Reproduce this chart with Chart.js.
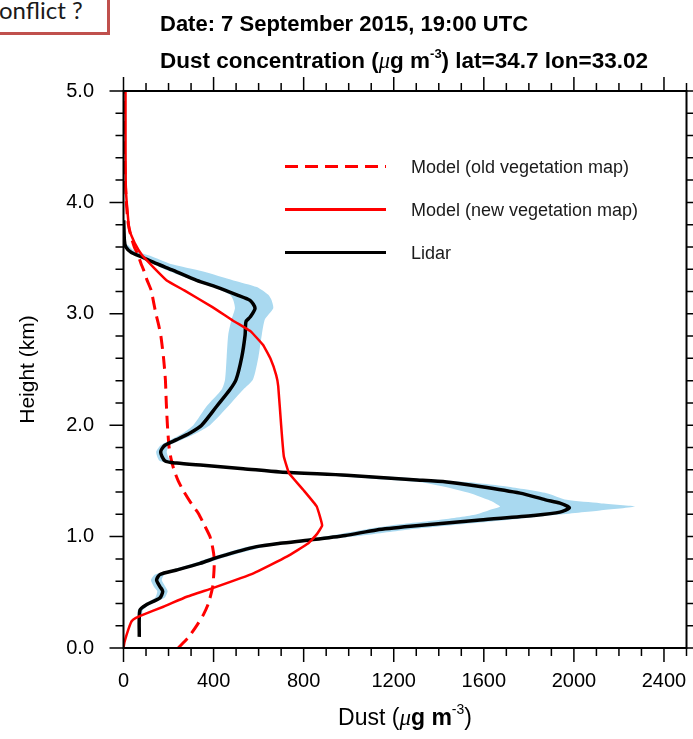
<!DOCTYPE html>
<html>
<head>
<meta charset="utf-8">
<script src="https://cdn.jsdelivr.net/npm/chart.js@4.4.1/dist/chart.umd.min.js"></script>
<style>
html,body{margin:0;padding:0;background:#fff;}
#wrap{position:relative;width:693px;height:739px;overflow:hidden;background:#fff;}
#c{position:absolute;left:0;top:0;}
#note{position:absolute;left:-30px;top:-30px;width:140px;height:65px;box-sizing:border-box;border:3px solid #c0504d;background:#fff;}
#noteText{position:absolute;left:-1px;top:-2px;font-family:Lato,"Open Sans",sans-serif;font-size:24px;line-height:24px;color:#1a1a1a;white-space:nowrap;}
</style>
</head>
<body>
<div id="wrap">
  <canvas id="c" width="693" height="739"></canvas>
  <div id="note"></div>
  <div id="noteText">onflict ?</div>
</div>
<script>
// ---------- DATA ----------
// Model with old vegetation map (dashed red): height (km) and dust (µg m-3)
const heightsOld = [0.00,0.10,0.21,0.30,0.40,0.55,0.70,0.80,0.90,1.00,1.10,1.21,1.30,1.40,1.50,1.60,1.70,1.81,2.00,2.20,2.41,2.60,2.80,2.90,3.00,3.10,3.21,3.30,3.40,3.45,3.54,3.60,3.70,3.81,3.96,4.20,4.50,4.80,5.00];
const dustOld    = [243,290,328,355,377,396,402,403,396,384,360,332,300,269,243,224,211,202,195,190,186,178,166,156,144,134,123,105,88,78,62,48,33,21,14,8,4,3,2];

// Model with new vegetation map (solid red)
const heightsNew = [0.00,0.05,0.10,0.17,0.24,0.27,0.30,0.37,0.46,0.54,0.67,0.82,0.94,1.02,1.10,1.27,1.42,1.57,1.72,1.87,2.00,2.35,2.45,2.60,2.72,2.84,2.88,2.94,3.06,3.21,3.30,3.42,3.53,3.63,3.75,3.96,4.14,4.50,5.00];
const dustNew    = [0,4,11,22,36,55,88,177,281,399,577,725,821,858,882,858,798,735,712,705,700,687,678,652,620,566,535,485,395,270,192,132,81,51,26,16,10,9,9];

// Lidar (black)
const heightsLidar = [0.10,0.34,0.39,0.45,0.51,0.55,0.61,0.66,0.70,0.76,0.82,0.91,0.94,0.97,1.01,1.06,1.095,1.15,1.19,1.22,1.26,1.30,1.33,1.39,1.45,1.49,1.51,1.55,1.58,1.61,1.64,1.66,1.68,1.76,1.82,1.87,1.93,2.00,2.17,2.32,2.41,2.61,2.81,2.93,2.97,3.05,3.12,3.17,3.24,3.30,3.39,3.45,3.51,3.55,3.60,3.66,3.84];
const dustLidar    = [70,73,103,162,174,162,147,162,236,340,428,591,695,828,985,1124,1287,1583,1820,1938,1980,1938,1874,1761,1583,1435,1287,991,695,532,354,236,184,165,184,236,295,347,414,473,500,525,540,544,562,584,562,503,414,325,221,147,81,35,10,4,1];

// Lidar uncertainty band (light blue): left and right edges at each height
const bandHeights = [0.30,0.34,0.39,0.45,0.51,0.55,0.61,0.66,0.70,0.76,0.82,0.91,0.94,0.97,1.01,1.06,1.104,1.149,1.196,1.235,1.27,1.30,1.33,1.39,1.45,1.49,1.52,1.55,1.58,1.61,1.64,1.66,1.68,1.76,1.82,1.87,1.93,2.00,2.17,2.32,2.41,2.61,2.81,2.95,3.05,3.12,3.17,3.24,3.30,3.38,3.45,3.52,3.57,3.62];
const bandLeft    = [62,64,92,140,150,135,122,140,212,312,398,550,650,780,920,1060,1200,1400,1560,1620,1672,1650,1620,1540,1420,1310,1100,920,640,490,325,212,160,145,165,210,265,310,369,436,451,458,465,480,495,488,473,399,310,206,131,64,20,5];
const bandRight   = [82,86,118,182,196,186,170,182,258,366,458,630,745,880,1060,1250,1465,1702,1924,2116,2271,2116,1968,1879,1702,1524,1317,1065,750,575,385,260,208,192,205,260,325,384,465,532,575,599,614,628,665,658,643,592,488,354,206,118,45,18];

// Axes / ticks
const xMin = 0, xMax = 2500, xMinorStep = 100;
const yMin = 0, yMax = 5, yMinorStep = 0.2;
const xTickValues = [0, 400, 800, 1200, 1600, 2000, 2400];
const xTickLabels = ['0', '400', '800', '1200', '1600', '2000', '2400'];
const yTickValues = [0, 1, 2, 3, 4, 5];
const yTickLabels = ['0.0', '1.0', '2.0', '3.0', '4.0', '5.0'];
const seriesLabels = ['Model (old vegetation map)', 'Model (new vegetation map)', 'Lidar'];

// ---------- BUILD ----------
const toPts = (hs, ds) => hs.map((h, i) => ({x: ds[i], y: h}));
const bandPts = bandHeights.map((h, i) => ({x: bandLeft[i], y: h}))
  .concat(bandHeights.map((h, i) => ({x: bandRight[i], y: h})).reverse());

const SANS = '"Liberation Sans", Arial, sans-serif';

function richText(ctx, parts, x, y, align) {
  let w = 0;
  parts.forEach(p => { ctx.font = p.f; p.w = ctx.measureText(p.t).width; w += p.w; });
  let cx = align === 'center' ? x - w / 2 : x;
  ctx.textAlign = 'left';
  ctx.textBaseline = 'alphabetic';
  parts.forEach(p => { ctx.font = p.f; ctx.fillText(p.t, cx, y + (p.dy || 0)); cx += p.w; });
}

const isMajor = (vals, v) => vals.some(t => Math.abs(t - v) < 1e-6);

const decor = {
  id: 'decor',
  afterDraw(chart) {
    const {ctx, chartArea: a, scales: {x, y}} = chart;
    ctx.save();
    ctx.strokeStyle = '#000';
    ctx.fillStyle = '#000';
    const majorLen = 14, minorLen = 8;
    ctx.lineWidth = 1.5;
    ctx.beginPath();
    const nx = Math.round((xMax - xMin) / xMinorStep);
    for (let i = 0; i <= nx; i++) {
      const v = xMin + i * xMinorStep;
      const px = x.getPixelForValue(v);
      const len = isMajor(xTickValues, v) ? majorLen : minorLen;
      ctx.moveTo(px, a.bottom); ctx.lineTo(px, a.bottom + len);
      ctx.moveTo(px, a.top); ctx.lineTo(px, a.top - len);
    }
    const ny = Math.round((yMax - yMin) / yMinorStep);
    for (let i = 0; i <= ny; i++) {
      const v = yMin + i * yMinorStep;
      const py = y.getPixelForValue(v);
      const len = isMajor(yTickValues, v) ? majorLen : minorLen;
      ctx.moveTo(a.left, py); ctx.lineTo(a.left - len, py);
      ctx.moveTo(a.right, py); ctx.lineTo(a.right + len, py);
    }
    ctx.stroke();
    ctx.lineWidth = 2;
    ctx.strokeRect(a.left, a.top, a.right - a.left, a.bottom - a.top);

    // Legend (inside plot)
    const legendItems = [0, 1, 2];
    const ly = [166.5, 209.5, 252.5];
    legendItems.forEach((di, k) => {
      const ds = chart.data.datasets[di];
      ctx.save();
      ctx.strokeStyle = ds.borderColor;
      ctx.lineWidth = 3;
      ctx.setLineDash(ds.borderDash || []);
      ctx.beginPath();
      ctx.moveTo(285, ly[k]); ctx.lineTo(386, ly[k]);
      ctx.stroke();
      ctx.restore();
      ctx.font = '18px ' + SANS;
      ctx.fillStyle = '#1a1a1a';
      ctx.textAlign = 'left';
      ctx.textBaseline = 'alphabetic';
      ctx.fillText(ds.label, 411, ly[k] + 6.5);
    });

    // Titles
    ctx.fillStyle = '#000';
    richText(ctx, [{t: 'Date: 7 September 2015, 19:00 UTC', f: 'bold 22px ' + SANS}], 160, 31, 'left');
    richText(ctx, [
      {t: 'Dust concentration (', f: 'bold 22.5px ' + SANS},
      {t: 'μ', f: 'italic 22.5px "Liberation Serif", serif'},
      {t: 'g m', f: 'bold 22.5px ' + SANS},
      {t: '-3', f: 'bold 13px ' + SANS, dy: -10},
      {t: ') lat=34.7 lon=33.02', f: 'bold 22.5px ' + SANS}
    ], 160, 68, 'left');

    // X axis title
    richText(ctx, [
      {t: 'Dust (', f: '23px ' + SANS},
      {t: 'μ', f: 'italic 23px "Liberation Serif", serif'},
      {t: 'g m', f: 'bold 23px ' + SANS},
      {t: '-3', f: '14px ' + SANS, dy: -11},
      {t: ')', f: '23px ' + SANS}
    ], (a.left + a.right) / 2, 725, 'center');

    // Y axis title
    ctx.save();
    ctx.translate(33.5, (a.top + a.bottom) / 2);
    ctx.rotate(-Math.PI / 2);
    ctx.font = '21px ' + SANS;
    ctx.textAlign = 'center';
    ctx.textBaseline = 'alphabetic';
    ctx.fillText('Height (km)', 0, 0);
    ctx.restore();

    ctx.restore();
  }
};

const tickFont = {family: SANS, size: 20};

new Chart(document.getElementById('c'), {
  type: 'line',
  data: {
    datasets: [
      {label: seriesLabels[0], data: toPts(heightsOld, dustOld), borderColor: '#ff0000', borderWidth: 3,
       borderDash: [13, 7], pointRadius: 0, fill: false, tension: 0.2, order: 3},
      {label: seriesLabels[1], data: toPts(heightsNew, dustNew), borderColor: '#ff0000', borderWidth: 2.5,
       pointRadius: 0, fill: false, tension: 0.1, order: 1},
      {label: seriesLabels[2], data: toPts(heightsLidar, dustLidar), borderColor: '#000000', borderWidth: 3.5,
       pointRadius: 0, fill: false, tension: 0.25, order: 2},
      {label: 'Lidar uncertainty', data: bandPts, borderColor: 'rgba(0,0,0,0)', borderWidth: 0,
       backgroundColor: '#a9d9f0', pointRadius: 0, fill: 'shape', tension: 0.2, order: 5}
    ]
  },
  options: {
    responsive: false,
    animation: false,
    devicePixelRatio: 1,
    layout: {padding: {top: 91, right: 6.5, bottom: 0, left: 0}},
    plugins: {legend: {display: false}, tooltip: {enabled: false}, title: {display: false}},
    scales: {
      x: {
        type: 'linear', min: xMin, max: xMax,
        grid: {display: false, drawTicks: false}, border: {display: false},
        ticks: {autoSkip: false, maxRotation: 0, minRotation: 0, font: tickFont, color: '#000', padding: 21,
                callback: (v) => { const i = xTickValues.indexOf(v); return i >= 0 ? xTickLabels[i] : ''; }},
        afterBuildTicks(s) { s.ticks = xTickValues.map(v => ({value: v})); },
        afterFit(s) { s.height = 91; s.paddingLeft = 0; s.paddingRight = 0; }
      },
      y: {
        type: 'linear', min: yMin, max: yMax,
        grid: {display: false, drawTicks: false}, border: {display: false},
        ticks: {autoSkip: false, font: tickFont, color: '#000', padding: 29.5,
                callback: (v) => { const i = yTickValues.indexOf(v); return i >= 0 ? yTickLabels[i] : ''; }},
        afterBuildTicks(s) { s.ticks = yTickValues.map(v => ({value: v})); },
        afterFit(s) { s.width = 123.5; s.paddingTop = 0; s.paddingBottom = 0; }
      }
    }
  },
  plugins: [decor]
});
</script>
</body>
</html>
